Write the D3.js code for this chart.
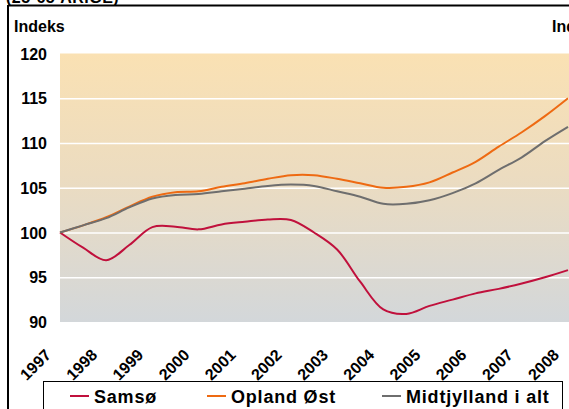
<!DOCTYPE html>
<html>
<head>
<meta charset="utf-8">
<script src="https://cdn.jsdelivr.net/npm/d3@7"></script>
<style>
  body { margin: 0; background: #fff; }
  svg { display: block; font-family: "Liberation Sans", Arial, sans-serif; font-weight: bold; }
</style>
</head>
<body>
<div id="chart"></div>
<script>
// Data (half-year points)
const years = [1997, 1998, 1999, 2000, 2001, 2002, 2003, 2004, 2005, 2006, 2007, 2008];
const periods = [1997, 1997.5, 1998, 1998.5, 1999, 1999.5, 2000, 2000.5, 2001, 2001.5, 2002, 2002.5,
                 2003, 2003.5, 2004, 2004.5, 2005, 2005.5, 2006, 2006.5, 2007, 2007.5, 2008];
const samso = [100, 98.3, 96.9, 98.6, 100.6, 100.65, 100.35, 100.9, 101.2, 101.45, 101.4, 100.0,
               98.1, 94.5, 91.4, 90.9, 91.8, 92.5, 93.2, 93.7, 94.3, 95.0, 95.8];
const opland = [100, 100.8, 101.7, 102.9, 104.0, 104.5, 104.6, 105.1, 105.5, 106.0, 106.4, 106.4,
                106.0, 105.5, 105.0, 105.1, 105.6, 106.7, 107.9, 109.6, 111.2, 113.0, 115.0];
const midt = [100, 100.8, 101.6, 102.8, 103.8, 104.2, 104.3, 104.6, 104.9, 105.2, 105.35, 105.2,
              104.6, 104.0, 103.2, 103.2, 103.6, 104.4, 105.5, 107.0, 108.4, 110.2, 111.8];
const yTicks = [90, 95, 100, 105, 110, 115, 120];
const seriesNames = ["Samsø", "Opland Øst", "Midtjylland i alt"];
const colors = ["#c0103c", "#ee6a12", "#6e6e6e"];

const W = 569, H = 409;

const svg = d3.select("#chart").append("svg")
  .attr("width", W)
  .attr("height", H);

const x = d3.scaleLinear().domain([1997, 2008]).range([60, 568]);
const y = d3.scaleLinear().domain([90, 120]).range([322, 53.5]);

// background gradient of the plot area
const grad = svg.append("defs").append("linearGradient")
  .attr("id", "bg").attr("x1", 0).attr("y1", 0).attr("x2", 0).attr("y2", 1);
grad.append("stop").attr("offset", "0%").attr("stop-color", "#fae1b3");
grad.append("stop").attr("offset", "45%").attr("stop-color", "#ecdcc0");
grad.append("stop").attr("offset", "100%").attr("stop-color", "#d3d7da");

svg.append("rect")
  .attr("x", x(1997)).attr("y", y(120))
  .attr("width", W - x(1997)).attr("height", y(90) - y(120))
  .attr("fill", "url(#bg)");

// grid lines
svg.append("g")
  .attr("transform", `translate(${x(1997)},0)`)
  .call(d3.axisLeft(y).tickValues(yTicks.slice(1, -1)).tickSize(-(W - x(1997))).tickFormat(""))
  .call(g => g.select(".domain").remove())
  .selectAll("line")
  .attr("stroke", "#fff")
  .attr("stroke-width", 1.5);

// y tick labels
svg.append("g")
  .selectAll("text")
  .data(yTicks)
  .enter().append("text")
  .attr("x", 47)
  .attr("y", d => y(d) + 6)
  .attr("text-anchor", "end")
  .style("font-size", "16px")
  .text(d => d);

// x tick labels
svg.append("g")
  .selectAll("text")
  .data(years)
  .enter().append("text")
  .attr("transform", d => `translate(${x(d) - 8},356) rotate(-45)`)
  .attr("text-anchor", "end")
  .style("font-size", "16px")
  .text(d => d);

// lines
const line = d3.line()
  .x((d, i) => x(periods[i]))
  .y(d => y(d))
  .curve(d3.curveCatmullRom.alpha(0.5));

[samso, opland, midt].forEach((s, i) => {
  svg.append("path")
    .datum(s)
    .attr("fill", "none")
    .attr("stroke", colors[i])
    .attr("stroke-width", 2)
    .attr("d", line);
});

// frame and titles
svg.append("text")
  .attr("x", 6).attr("y", 3)
  .style("font-size", "16px")
  .style("letter-spacing", "0.5px")
  .text("(25-65 ÅRIGE)");

svg.append("line")
  .attr("x1", 8).attr("x2", W).attr("y1", 5.5).attr("y2", 5.5)
  .attr("stroke", "#000").attr("stroke-width", 2);
svg.append("line")
  .attr("x1", 8).attr("x2", 8).attr("y1", 5).attr("y2", H)
  .attr("stroke", "#000").attr("stroke-width", 2);

svg.append("text")
  .attr("x", 14).attr("y", 32)
  .style("font-size", "16px")
  .text("Indeks");
svg.append("text")
  .attr("x", 552).attr("y", 32)
  .style("font-size", "16px")
  .text("Indeks");

// legend
svg.append("rect")
  .attr("x", 43.5).attr("y", 381.5)
  .attr("width", 519).attr("height", 40)
  .attr("fill", "#fff")
  .attr("stroke", "#000");

const legendX = [70, 207, 382];
const legend = svg.append("g")
  .selectAll("g")
  .data(seriesNames)
  .enter().append("g")
  .attr("transform", (d, i) => `translate(${legendX[i]},396)`);

legend.append("line")
  .attr("x1", 0).attr("x2", 19)
  .attr("stroke", (d, i) => colors[i])
  .attr("stroke-width", 2);

legend.append("text")
  .attr("x", 24).attr("y", 7)
  .style("font-size", "18px")
  .style("letter-spacing", "0.8px")
  .text(d => d);
</script>
</body>
</html>
